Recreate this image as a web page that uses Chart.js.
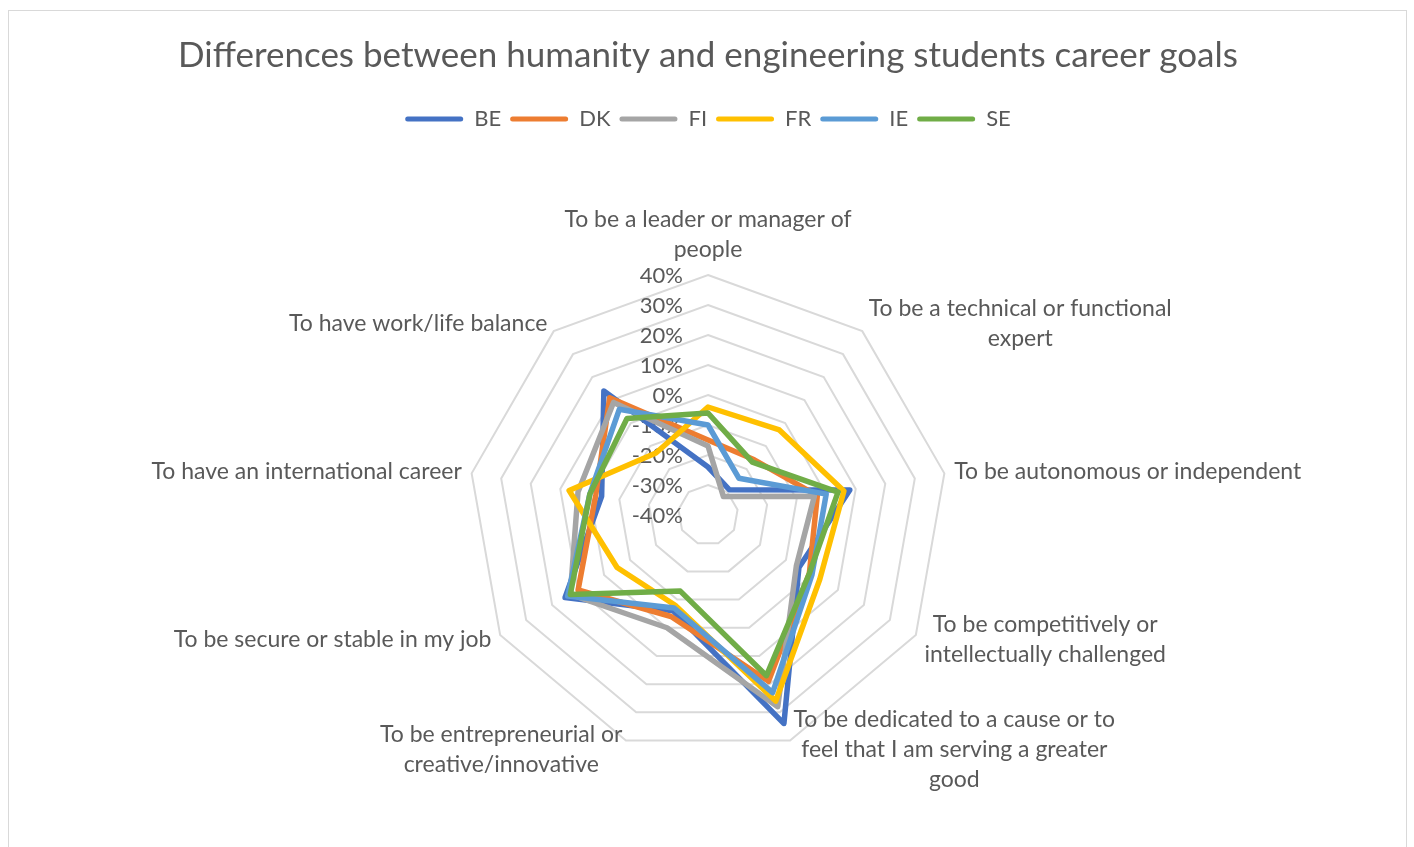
<!DOCTYPE html>
<html>
<head>
<meta charset="utf-8">
<title>Career goals radar</title>
<script src="https://cdn.jsdelivr.net/npm/chart.js@4.4.1/dist/chart.umd.min.js"></script>
<style>
    html, body { margin: 0; padding: 0; background: #ffffff; overflow: hidden; }
    #moldura { position: absolute; left: 8px; top: 10px; width: 1397px; height: 900px; border: 1px solid #d9d9d9; }
    #caixa { position: absolute; left: 0; top: 0; width: 1414px; height: 847px; }
</style>
</head>
<body>
<div id="moldura"></div>
<div id="caixa"><canvas id="chartCarreira"></canvas></div>
<script>
// Categories (wrapped the same way as the original labels)
const categorias = [
    ['To be a leader or manager of', 'people'],
    ['To be a technical or functional', 'expert'],
    ['To be autonomous or independent'],
    ['To be competitively or', 'intellectually challenged'],
    ['To be dedicated to a cause or to', 'feel that I am serving a greater', 'good'],
    ['To be entrepreneurial or', 'creative/innovative'],
    ['To be secure or stable in my job'],
    ['To have an international career'],
    ['To have work/life balance']
];

// Differences in %
const paises = ['BE', 'DK', 'FI', 'FR', 'IE', 'SE'];
const valoresBE = [-24, -29,  8, -5, 34, -6, 15, -4, 14];
const valoresDK = [-15, -16, -3, -1, 19, -4, 10, -2, 11];
const valoresFI = [-17, -32, -4, -6, 28,  0, 13,  4,  9];
const valoresFR = [ -4,  -3,  6,  3, 26, -8, -5,  7, -13];
const valoresIE = [-10, -24,  0,  0, 23, -7, 14,  0,  6];
const valoresSE = [ -6, -17,  4, -1, 17, -13, 13, 0,  2];

// Axis range
const eixoMin = -40;
const eixoMax = 40;
const eixoPasso = 10;

// Colours
const cores = ['#4472C4', '#ED7D31', '#A5A5A5', '#FFC000', '#5B9BD5', '#70AD47'];
const corTexto = '#595959';
const corGrade = '#d9d9d9';
const fonte = 'Lato, Calibri, "Open Sans", sans-serif';

const series = [valoresBE, valoresDK, valoresFI, valoresFR, valoresIE, valoresSE];

// Tick labels (left of the vertical axis) and category labels, Excel style
const rotulosRadar = {
    id: 'rotulosRadar',
    beforeDatasetsDraw(chart) {
        const scale = chart.scales.r;
        const ctx = chart.ctx;
        ctx.save();
        ctx.fillStyle = corTexto;
        ctx.font = '22px ' + fonte;
        ctx.textAlign = 'right';
        ctx.textBaseline = 'middle';
        scale.ticks.forEach(t => {
            const d = scale.getDistanceFromCenterForValue(t.value);
            ctx.fillText(t.value + '%', scale.xCenter - 25, scale.yCenter - d + 1);
        });
        ctx.restore();
    },
    afterDraw(chart) {
        const scale = chart.scales.r;
        const ctx = chart.ctx;
        const alturaLinha = 30;
        ctx.save();
        ctx.fillStyle = corTexto;
        ctx.font = '23px ' + fonte;
        ctx.textAlign = 'center';
        ctx.textBaseline = 'middle';
        chart.data.labels.forEach((rotulo, i) => {
            const linhas = Array.isArray(rotulo) ? rotulo : [rotulo];
            const p = scale.getPointPosition(i, scale.drawingArea + 10);
            const graus = Math.round(scale.getIndexAngle(i) * 180 / Math.PI) % 360;
            const largura = Math.max(...linhas.map(l => ctx.measureText(l).width));
            const altura = linhas.length * alturaLinha;

            let centroX = p.x;
            if (graus > 0 && graus < 180) centroX = p.x + largura / 2;
            else if (graus > 180) centroX = p.x - largura / 2;

            let topo = p.y - altura / 2;
            if (graus === 0) topo = p.y - altura;
            else if (graus === 180) topo = p.y;

            linhas.forEach((l, k) => {
                ctx.fillText(l, centroX, topo + alturaLinha / 2 + k * alturaLinha);
            });
        });
        ctx.restore();
    }
};

const ctxCarreira = document.getElementById('chartCarreira').getContext('2d');
const chartCarreira = new Chart(ctxCarreira, {
    type: 'radar',
    data: {
        labels: categorias,
        datasets: paises.map((pais, i) => ({
            label: pais,
            data: series[i],
            borderColor: cores[i],
            backgroundColor: cores[i],
            borderWidth: 5.5,
            borderJoinStyle: 'round',
            fill: false,
            pointRadius: 0,
            pointHoverRadius: 0,
            order: paises.length - i   // later series on top, like Excel
        }))
    },
    options: {
        responsive: true,
        maintainAspectRatio: false,
        animation: false,
        layout: { padding: { top: 35, left: 2, right: 0, bottom: 92 } },
        plugins: {
            title: {
                display: true,
                text: 'Differences between humanity and engineering students career goals',
                color: corTexto,
                font: { family: fonte, size: 35, weight: 'normal' },
                padding: { top: 0, bottom: 22 }
            },
            legend: {
                display: true,
                position: 'top',
                labels: {
                    color: corTexto,
                    font: { family: fonte, size: 22 },
                    boxWidth: 58,
                    boxHeight: 5,
                    padding: 9,
                    useBorderRadius: true,
                    borderRadius: 2.5,
                    sort: (a, b) => a.datasetIndex - b.datasetIndex,
                    generateLabels: (chart) =>
                        Chart.defaults.plugins.legend.labels.generateLabels(chart)
                            .map(item => ({ ...item, lineWidth: 0 }))
                }
            },
            tooltip: { enabled: false }
        },
        scales: {
            r: {
                min: eixoMin,
                max: eixoMax,
                ticks: { stepSize: eixoPasso, display: false },
                grid: { color: corGrade, lineWidth: 2 },
                angleLines: { display: false },
                pointLabels: { display: false },
                afterFit(scale) {
                    // radius of 240px, sitting on the bottom of the chart area
                    scale.drawingArea = 240;
                    scale.yCenter = scale.bottom - scale.drawingArea;
                }
            }
        }
    },
    plugins: [rotulosRadar]
});
</script>
</body>
</html>
